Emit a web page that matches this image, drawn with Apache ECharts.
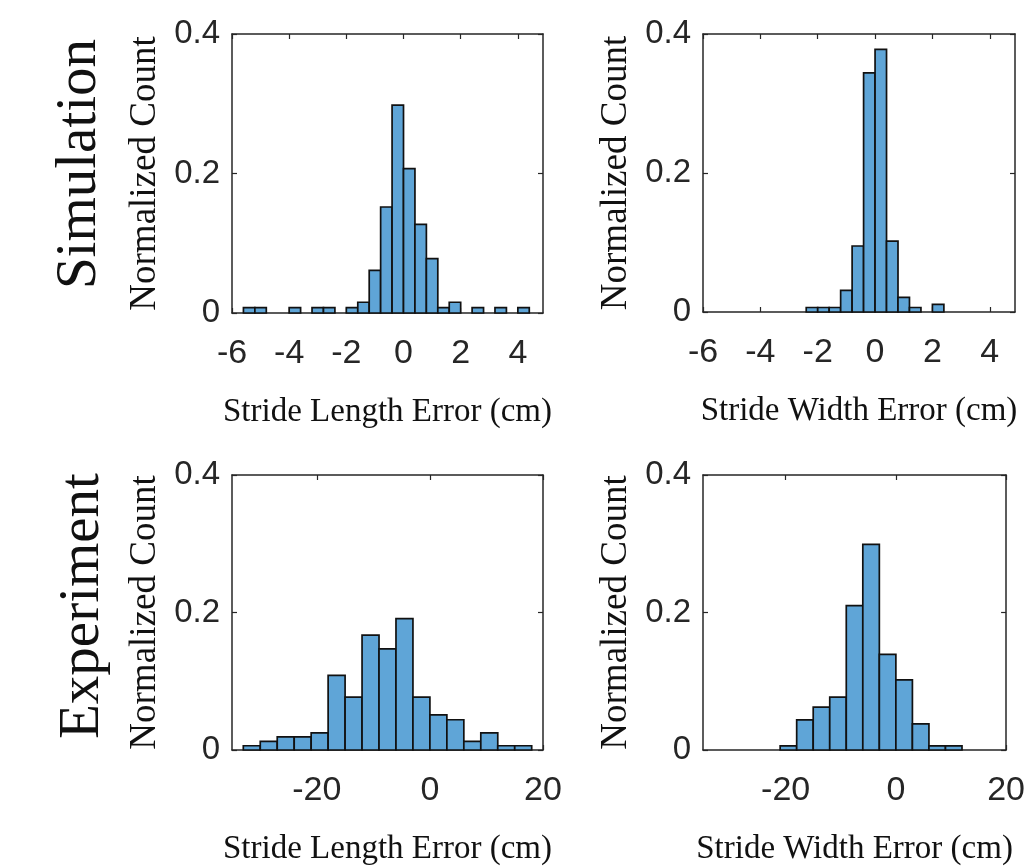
<!DOCTYPE html>
<html><head><meta charset="utf-8">
<script src="https://cdn.jsdelivr.net/npm/echarts@6/dist/echarts.min.js"></script>
<style>html,body{margin:0;padding:0;background:#fff}#c{width:1028px;height:867px}</style>
</head><body><div id="c"></div>
<script>
// ---- data (normalized counts per bin) ----
const simLenStart = -5.6, simLenWidth = 0.4;
const simLenValues = [0.0077, 0.0077, 0, 0, 0.0077, 0, 0.0077, 0.0077, 0, 0.0077, 0.0154, 0.061, 0.152, 0.298, 0.207, 0.127, 0.078, 0.0077, 0.0154, 0, 0.0077, 0, 0.0077, 0, 0.0077];

const simWidStart = -2.4, simWidWidth = 0.4;
const simWidValues = [0.0065, 0.0065, 0.0065, 0.031, 0.095, 0.344, 0.378, 0.102, 0.021, 0.0065, 0, 0.011];

const expLenStart = -33, expLenWidth = 3;
const expLenValues = [0.0062, 0.0125, 0.019, 0.019, 0.025, 0.1085, 0.077, 0.167, 0.147, 0.191, 0.077, 0.051, 0.044, 0.0125, 0.025, 0.0062, 0.0062];

const expWidStart = -21, expWidWidth = 3;
const expWidValues = [0.006, 0.0437, 0.0624, 0.077, 0.21, 0.299, 0.139, 0.102, 0.038, 0.006, 0.006];

const yTicks = [0, 0.2, 0.4];
const simXTicks = [-6, -4, -2, 0, 2, 4];
const expXTicks = [-20, 0, 20];
const rowLabels = ['Simulation', 'Experiment'];
const xNames = ['Stride Length Error (cm)', 'Stride Width Error (cm)'];
const yName = 'Normalized Count';

// ---- styles ----
const BAR = '#5fa5d7';
const AX = '#262626';
const SANS = 'Liberation Sans, Arial, sans-serif';
const SERIF = 'Liberation Serif, Times New Roman, serif';

function bins(start, w, vals) {
  const out = [];
  vals.forEach((v, i) => { if (v > 0) out.push([start + i * w, start + (i + 1) * w, v]); });
  return out;
}

const panels = [
  { left: 232, top: 34, width: 311, height: 279, xmin: -6, xmax: 4.88, ticks: simXTicks, data: bins(simLenStart, simLenWidth, simLenValues), name: xNames[0] },
  { left: 703, top: 34, width: 312, height: 278, xmin: -6, xmax: 4.88, ticks: simXTicks, data: bins(simWidStart, simWidWidth, simWidValues), name: xNames[1] },
  { left: 232, top: 475, width: 311, height: 278, xmin: -35, xmax: 20, ticks: expXTicks, data: bins(expLenStart, expLenWidth, expLenValues), name: xNames[0] },
  { left: 703, top: 475, width: 312, height: 278, xmin: -35, xmax: 20, ticks: expXTicks, data: bins(expWidStart, expWidWidth, expWidValues), name: xNames[1] }
];

const grid = [], xAxis = [], yAxis = [], series = [];
panels.forEach((p, g) => {
  grid.push({ left: p.left, top: p.top, width: p.width, height: p.height, containLabel: false });
  const lineStyle = { color: AX, width: 1.5 };
  const tick = { show: true, inside: true, length: 5, lineStyle: { color: AX, width: 1.2 }, customValues: p.ticks };
  xAxis.push({
    gridIndex: g, type: 'value', position: 'bottom', min: p.xmin, max: p.xmax,
    axisLine: { show: true, onZero: false, lineStyle },
    axisTick: tick,
    axisLabel: { show: true, customValues: p.ticks, color: AX, fontFamily: SANS, fontSize: 34, margin: 24 },
    splitLine: { show: false },
    name: p.name, nameLocation: 'middle', nameGap: 83,
    nameTextStyle: { fontFamily: SERIF, fontSize: 33, color: '#111', verticalAlign: 'top' }
  });
  xAxis.push({
    gridIndex: g, type: 'value', position: 'top', min: p.xmin, max: p.xmax,
    axisLine: { show: true, onZero: false, lineStyle },
    axisTick: tick, axisLabel: { show: false }, splitLine: { show: false }
  });
  const ytick = { show: true, inside: true, length: 5, lineStyle: { color: AX, width: 1.2 } };
  yAxis.push({
    gridIndex: g, type: 'value', position: 'left', min: 0, max: 0.4, interval: 0.2,
    axisLine: { show: true, onZero: false, lineStyle },
    axisTick: ytick,
    axisLabel: { color: AX, fontFamily: SANS, fontSize: 33, margin: 12, padding: [4, 0, 0, 0] },
    splitLine: { show: false },
    name: yName, nameLocation: 'middle', nameGap: 68, nameRotate: 90,
    nameTextStyle: { fontFamily: SERIF, fontSize: 37, color: '#111' }
  });
  yAxis.push({
    gridIndex: g, type: 'value', position: 'right', min: 0, max: 0.4, interval: 0.2,
    axisLine: { show: true, onZero: false, lineStyle },
    axisTick: ytick, axisLabel: { show: false }, splitLine: { show: false }
  });
  series.push({
    type: 'custom', xAxisIndex: 2 * g, yAxisIndex: 2 * g,
    encode: { x: [0, 1], y: 2 },
    data: p.data,
    renderItem: function (params, api) {
      const a = api.coord([api.value(0), api.value(2)]);
      const b = api.coord([api.value(1), 0]);
      return {
        type: 'rect',
        shape: { x: a[0], y: a[1], width: b[0] - a[0], height: b[1] - a[1] },
        style: { fill: BAR, stroke: '#111', lineWidth: 1.7 }
      };
    }
  });
});

const chart = echarts.init(document.getElementById('c'), null, { renderer: 'canvas' });
chart.setOption({
  animation: false,
  backgroundColor: '#fff',
  grid, xAxis, yAxis, series,
  graphic: [
    { type: 'text', x: 80, y: 164, rotation: Math.PI / 2, style: { text: rowLabels[0], fontFamily: SERIF, fontSize: 57, fill: '#111', align: 'center', verticalAlign: 'middle' } },
    { type: 'text', x: 83, y: 606, rotation: Math.PI / 2, style: { text: rowLabels[1], fontFamily: SERIF, fontSize: 57, fill: '#111', align: 'center', verticalAlign: 'middle' } }
  ]
});
</script></body></html>
